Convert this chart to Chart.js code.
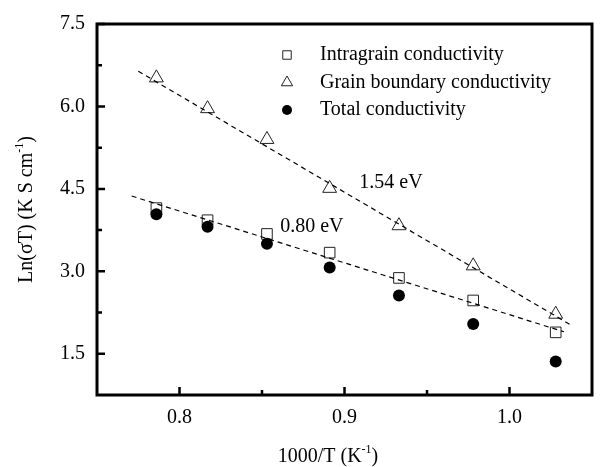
<!DOCTYPE html>
<html>
<head>
<meta charset="utf-8">
<script src="https://cdn.jsdelivr.net/npm/chart.js@4.4.0/dist/chart.umd.min.js"></script>
<style>
  html, body { margin: 0; padding: 0; background: #fff; }
  canvas { display: block; }
</style>
</head>
<body>
<canvas id="c" width="601" height="467"></canvas>
<script>
// data
const invT = [0.786, 0.817, 0.853, 0.891, 0.933, 0.978, 1.028];
const intragrain = [4.15, 3.93, 3.68, 3.34, 2.88, 2.47, 1.89];
const grainBoundary = [6.52, 5.96, 5.40, 4.51, 3.83, 3.10, 2.22];
const totalCond = [4.04, 3.81, 3.50, 3.07, 2.56, 2.04, 1.36];

// dashed Arrhenius fits (end points)
const fitIntraX = [0.771, 1.033];
const fitIntraY = [4.37, 1.90];
const fitGbX = [0.775, 1.038];
const fitGbY = [6.64, 2.01];

const xMajor = [0.8, 0.9, 1.0];
const xMinor = [0.85, 0.95];
const yMajor = [1.5, 3.0, 4.5, 6.0, 7.5];
const yMinor = [2.25, 3.75, 5.25, 6.75];

const legendLabels = ['Intragrain conductivity', 'Grain boundary conductivity', 'Total conductivity'];
const notes = [
  { text: '1.54 eV', x: 0.909, y: 4.62 },
  { text: '0.80 eV', x: 0.861, y: 3.81 }
];

const FONT = '"Liberation Serif", "Times New Roman", serif';
const pts = (xs, ys) => xs.map((x, i) => ({ x, y: ys[i] }));

function drawMarker(ctx, style, x, y, r) {
  ctx.save();
  ctx.lineWidth = 1;
  ctx.strokeStyle = '#222';
  ctx.beginPath();
  if (style === 'rect') {
    const s = r * Math.SQRT1_2;
    ctx.rect(x - s, y - s, 2 * s, 2 * s);
    ctx.fillStyle = '#fff'; ctx.fill(); ctx.stroke();
  } else if (style === 'triangle') {
    for (let k = 0; k < 3; k++) {
      const a = k * 2 * Math.PI / 3;
      const px = x + Math.sin(a) * r, py = y - Math.cos(a) * r;
      k ? ctx.lineTo(px, py) : ctx.moveTo(px, py);
    }
    ctx.closePath();
    ctx.fillStyle = '#fff'; ctx.fill(); ctx.stroke();
  } else {
    ctx.arc(x, y, r, 0, Math.PI * 2);
    ctx.fillStyle = '#000'; ctx.fill();
  }
  ctx.restore();
}

// text with a superscript part, e.g. "K" + "-1" + ")"
function superText(ctx, parts, cx, cy, size) {
  const big = size + 'px ' + FONT, small = Math.round(size * 0.62) + 'px ' + FONT;
  let w = 0;
  parts.forEach(p => { ctx.font = p.sup ? small : big; w += ctx.measureText(p.t).width; });
  let x = cx - w / 2;
  ctx.textBaseline = 'middle';
  ctx.textAlign = 'left';
  parts.forEach(p => {
    ctx.font = p.sup ? small : big;
    ctx.fillText(p.t, x, p.sup ? cy - size * 0.38 : cy);
    x += ctx.measureText(p.t).width;
  });
}

const framePlugin = {
  id: 'frame',
  afterDraw(chart) {
    const { ctx, chartArea: a, scales: { x, y } } = chart;
    ctx.save();
    ctx.strokeStyle = '#000';
    ctx.lineWidth = 3;
    ctx.strokeRect(a.left, a.top, a.right - a.left, a.bottom - a.top);

    // inward ticks
    ctx.lineWidth = 2.5;
    ctx.beginPath();
    xMajor.forEach(v => { const p = x.getPixelForValue(v); ctx.moveTo(p, a.bottom); ctx.lineTo(p, a.bottom - 8); });
    xMinor.forEach(v => { const p = x.getPixelForValue(v); ctx.moveTo(p, a.bottom); ctx.lineTo(p, a.bottom - 5); });
    yMajor.forEach(v => { const p = y.getPixelForValue(v); ctx.moveTo(a.left, p); ctx.lineTo(a.left + 8, p); });
    yMinor.forEach(v => { const p = y.getPixelForValue(v); ctx.moveTo(a.left, p); ctx.lineTo(a.left + 5, p); });
    ctx.stroke();

    // legend
    const styles = ['rect', 'triangle', 'circle'];
    const radii = [6, 6.5, 5];
    legendLabels.forEach((lab, i) => {
      const ly = a.top + 31 + i * 27.5;
      drawMarker(ctx, styles[i], a.left + 190, ly, radii[i]);
      ctx.fillStyle = '#000';
      ctx.font = '20px ' + FONT;
      ctx.textAlign = 'left';
      ctx.textBaseline = 'middle';
      ctx.fillText(lab, a.left + 223, ly);
    });

    // activation energy notes
    notes.forEach(n => {
      ctx.font = '20px ' + FONT;
      ctx.textAlign = 'left';
      ctx.textBaseline = 'middle';
      ctx.fillText(n.text, x.getPixelForValue(n.x), y.getPixelForValue(n.y));
    });

    // axis titles
    ctx.fillStyle = '#000';
    superText(ctx, [{ t: '1000/T (K' }, { t: '-1', sup: true }, { t: ')' }], 328, 457, 20);
    ctx.translate(27, (a.top + a.bottom) / 2);
    ctx.rotate(-Math.PI / 2);
    superText(ctx, [{ t: 'Ln(\u03c3T) (K S cm' }, { t: '-1', sup: true }, { t: ')' }], 0, 0, 20);
    ctx.restore();
  }
};

new Chart(document.getElementById('c'), {
  type: 'scatter',
  data: {
    datasets: [
      {
        label: 'Intragrain fit',
        data: pts(fitIntraX, fitIntraY),
        showLine: true, borderColor: '#000', borderWidth: 1.2, borderDash: [5, 4],
        pointRadius: 0
      },
      {
        label: 'Grain boundary fit',
        data: pts(fitGbX, fitGbY),
        showLine: true, borderColor: '#000', borderWidth: 1.2, borderDash: [5, 4],
        pointRadius: 0
      },
      {
        label: legendLabels[2],
        data: pts(invT, totalCond),
        pointStyle: 'circle', pointRadius: 6,
        backgroundColor: '#000', borderColor: '#000', borderWidth: 0
      },
      {
        label: legendLabels[0],
        data: pts(invT, intragrain),
        pointStyle: 'rect', pointRadius: 7.5,
        backgroundColor: '#fff', borderColor: '#222', borderWidth: 1
      },
      {
        label: legendLabels[1],
        data: pts(invT, grainBoundary),
        pointStyle: 'triangle', pointRadius: 8,
        backgroundColor: 'rgba(255,255,255,0)', borderColor: '#222', borderWidth: 1
      }
    ]
  },
  options: {
    responsive: false,
    animation: false,
    layout: { padding: { top: 23, right: 4, left: 0, bottom: 0 } },
    plugins: { legend: { display: false }, tooltip: { enabled: false } },
    scales: {
      x: {
        min: 0.75, max: 1.05,
        afterFit: s => { s.height = 72; },
        afterBuildTicks: s => { s.ticks = xMajor.map(v => ({ value: v })); },
        grid: { display: false, drawTicks: false },
        border: { display: false },
        ticks: { color: '#000', padding: 11, font: { family: FONT, size: 20 }, callback: v => v.toFixed(1), maxRotation: 0 }
      },
      y: {
        min: 0.75, max: 7.5,
        afterFit: s => { s.width = 97; },
        afterBuildTicks: s => { s.ticks = yMajor.map(v => ({ value: v })); },
        grid: { display: false, drawTicks: false },
        border: { display: false },
        ticks: { color: '#000', padding: 12, font: { family: FONT, size: 20 }, callback: v => v.toFixed(1) }
      }
    }
  },
  plugins: [framePlugin]
});
</script>
</body>
</html>
